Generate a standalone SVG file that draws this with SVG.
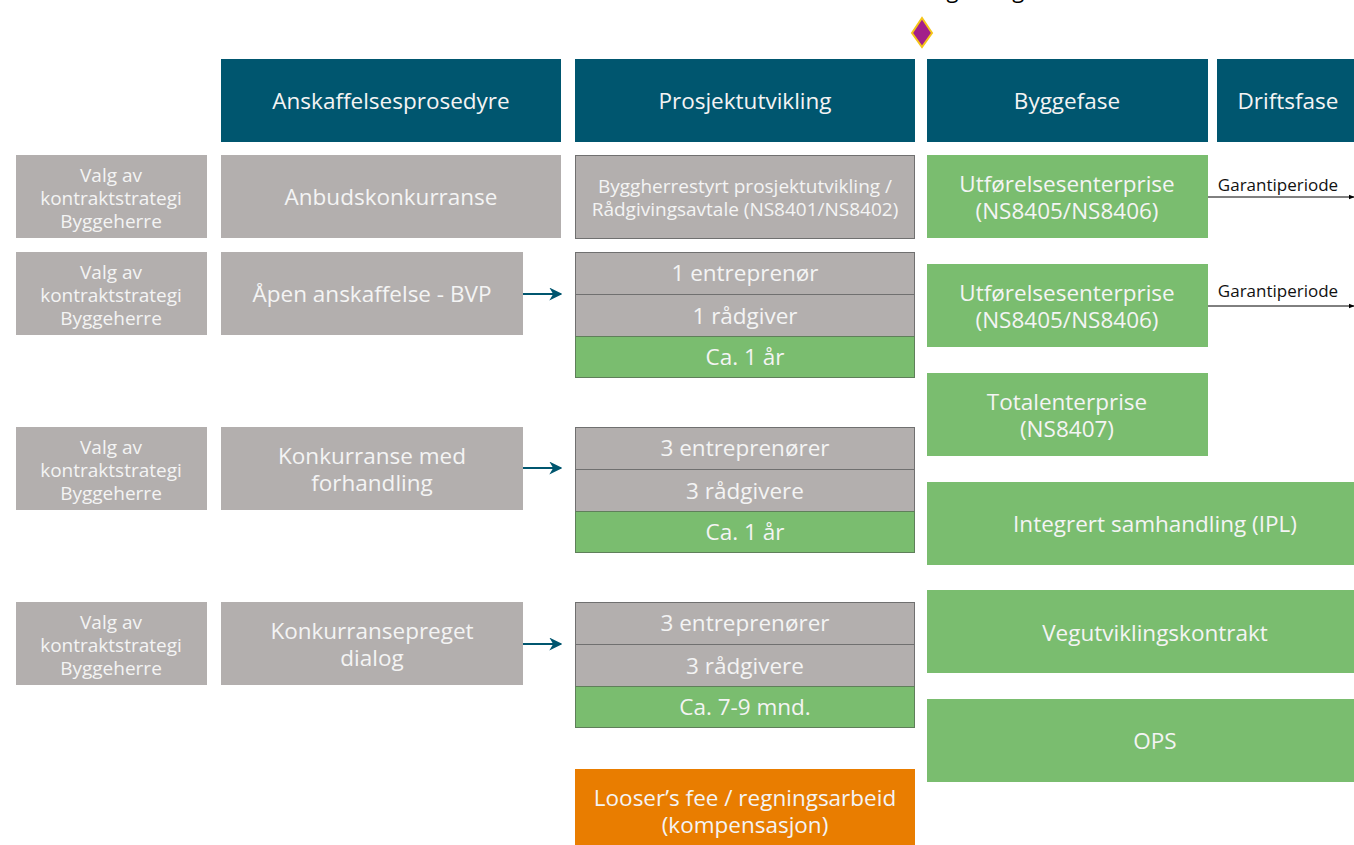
<svg xmlns="http://www.w3.org/2000/svg" width="1354" height="845" viewBox="0 0 1354 845">
<defs>
<style>
text{font-family:"Open Sans","Noto Sans","Liberation Sans",sans-serif;fill:#f4f4f4;text-anchor:middle}
.hdr{fill:#00566f}
.grey{fill:#b3afae}
.greyb{fill:#b3afae;stroke:#707070;stroke-width:1}
.green{fill:#7abd6f}
.greenb{fill:#7abd6f;stroke:#5f7f5a;stroke-width:1}
.orange{fill:#e97d00}
.t20{font-size:22.5px}
.t17{font-size:19px}
.t14{font-size:17px;fill:#111}
.conn{stroke:#00566f;stroke-width:2;fill:none}
.thin{stroke:#000;stroke-width:1;fill:none}
</style>
<marker id="ah" viewBox="0 0 10 10" refX="9" refY="5" markerWidth="6.5" markerHeight="6.5" orient="auto" markerUnits="strokeWidth"><path d="M0,0 L10,5 L0,10 L3,5 z" fill="#00566f"/></marker>
<marker id="ahk" viewBox="0 0 10 10" refX="9" refY="5" markerWidth="6" markerHeight="6" orient="auto" markerUnits="strokeWidth"><path d="M0,1 L10,5 L0,9 z" fill="#000"/></marker>
</defs>
<rect width="1354" height="845" fill="#fff"/>
<text x="933" y="-2" font-size="22" style="fill:#000">Kontraktsignering</text>
<g id="milestone"><path d="M922,18 L932,33 L922,47 L912,33 Z" fill="#a3208a" stroke="#f5c518" stroke-width="2"/></g>

<g id="h1"><rect class="hdr" x="221" y="59" width="340" height="83"/><text class="t20" x="391" y="109">Anskaffelsesprosedyre</text></g>
<g id="h2"><rect class="hdr" x="575" y="59" width="340" height="83"/><text class="t20" x="745" y="109">Prosjektutvikling</text></g>
<g id="h3"><rect class="hdr" x="927" y="59" width="281" height="83"/><text class="t20" x="1067" y="109">Byggefase</text></g>
<g id="h4"><rect class="hdr" x="1217" y="59" width="137" height="83"/><text class="t20" x="1288" y="109">Driftsfase</text></g>

<g id="v1"><rect class="grey" x="16" y="155" width="191" height="83"/><text class="t17" x="111" y="182">Valg av</text><text class="t17" x="111" y="205">kontraktstrategi</text><text class="t17" x="111" y="228">Byggeherre</text></g>
<g id="v2"><rect class="grey" x="16" y="252" width="191" height="83"/><text class="t17" x="111" y="279">Valg av</text><text class="t17" x="111" y="302">kontraktstrategi</text><text class="t17" x="111" y="325">Byggeherre</text></g>
<g id="v3"><rect class="grey" x="16" y="427" width="191" height="83"/><text class="t17" x="111" y="454">Valg av</text><text class="t17" x="111" y="477">kontraktstrategi</text><text class="t17" x="111" y="500">Byggeherre</text></g>
<g id="v4"><rect class="grey" x="16" y="602" width="191" height="83"/><text class="t17" x="111" y="629">Valg av</text><text class="t17" x="111" y="652">kontraktstrategi</text><text class="t17" x="111" y="675">Byggeherre</text></g>

<g id="p1"><rect class="grey" x="221" y="155" width="340" height="83"/><text class="t20" x="391" y="205">Anbudskonkurranse</text></g>
<g id="p2"><rect class="grey" x="221" y="252" width="302" height="83"/><text class="t20" x="372" y="302">Åpen anskaffelse - BVP</text></g>
<g id="p3"><rect class="grey" x="221" y="427" width="302" height="83"/><text class="t20" x="372" y="464">Konkurranse med</text><text class="t20" x="372" y="491">forhandling</text></g>
<g id="p4"><rect class="grey" x="221" y="602" width="302" height="83"/><text class="t20" x="372" y="639">Konkurransepreget</text><text class="t20" x="372" y="666">dialog</text></g>

<g id="d1"><rect class="greyb" x="575.5" y="155.5" width="339" height="83"/><text class="t17" x="745" y="193">Byggherrestyrt prosjektutvikling /</text><text class="t17" x="745" y="216">Rådgivingsavtale (NS8401/NS8402)</text></g>
<g id="d2">
<rect class="greyb" x="575.5" y="252.5" width="339" height="42"/><text class="t20" x="745" y="281">1 entreprenør</text>
<rect class="greyb" x="575.5" y="294.5" width="339" height="42"/><text class="t20" x="745" y="324">1 rådgiver</text>
<rect class="greenb" x="575.5" y="336.5" width="339" height="41"/><text class="t20" x="745" y="365">Ca. 1 år</text>
</g>
<g id="d3">
<rect class="greyb" x="575.5" y="427.5" width="339" height="42"/><text class="t20" x="745" y="456">3 entreprenører</text>
<rect class="greyb" x="575.5" y="469.5" width="339" height="42"/><text class="t20" x="745" y="499">3 rådgivere</text>
<rect class="greenb" x="575.5" y="511.5" width="339" height="41"/><text class="t20" x="745" y="540">Ca. 1 år</text>
</g>
<g id="d4">
<rect class="greyb" x="575.5" y="602.5" width="339" height="42"/><text class="t20" x="745" y="631">3 entreprenører</text>
<rect class="greyb" x="575.5" y="644.5" width="339" height="42"/><text class="t20" x="745" y="674">3 rådgivere</text>
<rect class="greenb" x="575.5" y="686.5" width="339" height="41"/><text class="t20" x="745" y="715">Ca. 7-9 mnd.</text>
</g>
<g id="lf"><rect class="orange" x="575" y="769" width="340" height="76"/><text class="t20" x="745" y="806">Looser’s fee / regningsarbeid</text><text class="t20" x="745" y="833">(kompensasjon)</text></g>

<g id="b1"><rect class="green" x="927" y="155" width="281" height="83"/><text class="t20" x="1067" y="192">Utførelsesenterprise</text><text class="t20" x="1067" y="219">(NS8405/NS8406)</text></g>
<g id="b2"><rect class="green" x="927" y="264" width="281" height="83"/><text class="t20" x="1067" y="301">Utførelsesenterprise</text><text class="t20" x="1067" y="328">(NS8405/NS8406)</text></g>
<g id="b3"><rect class="green" x="927" y="373" width="281" height="83"/><text class="t20" x="1067" y="410">Totalenterprise</text><text class="t20" x="1067" y="437">(NS8407)</text></g>
<g id="b4"><rect class="green" x="927" y="482" width="427" height="83"/><text class="t20" x="1155" y="532">Integrert samhandling (IPL)</text></g>
<g id="b5"><rect class="green" x="927" y="590" width="427" height="83"/><text class="t20" x="1155" y="641">Vegutviklingskontrakt</text></g>
<g id="b6"><rect class="green" x="927" y="699" width="427" height="83"/><text class="t20" x="1155" y="749">OPS</text></g>

<g id="connectors">
<line class="conn" x1="523" y1="294" x2="561" y2="294" marker-end="url(#ah)"/>
<line class="conn" x1="523" y1="468" x2="561" y2="468" marker-end="url(#ah)"/>
<line class="conn" x1="523" y1="644" x2="561" y2="644" marker-end="url(#ah)"/>
<line class="thin" x1="1208" y1="197" x2="1354" y2="197" marker-end="url(#ahk)"/>
<line class="thin" x1="1208" y1="306" x2="1354" y2="306" marker-end="url(#ahk)"/>
<text class="t14" x="1278" y="191">Garantiperiode</text>
<text class="t14" x="1278" y="297">Garantiperiode</text>
</g>
</svg>
